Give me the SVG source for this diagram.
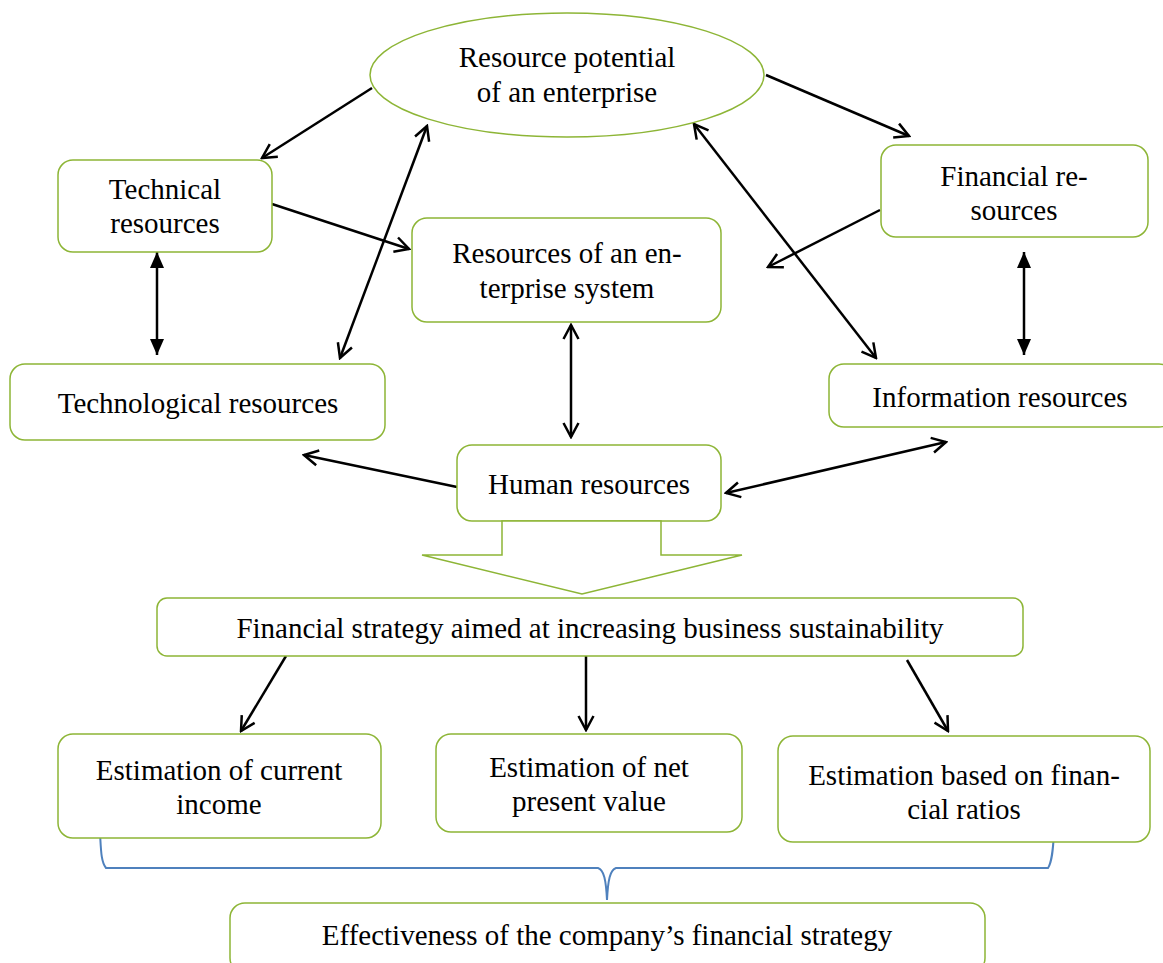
<svg xmlns="http://www.w3.org/2000/svg" width="1163" height="963" viewBox="0 0 1163 963">
<style>
.box{fill:#fff;stroke:#8DB536;stroke-width:1.5}
.t{font-family:"Liberation Serif","Times New Roman",serif;font-size:29px;fill:#000;text-anchor:middle}
.c{stroke:#000;stroke-width:2.5;fill:none}
</style>
<defs>
<marker id="open" viewBox="0 0 18 18" refX="16" refY="9" markerWidth="18" markerHeight="18" markerUnits="userSpaceOnUse" orient="auto-start-reverse">
<path d="M2,1.5 L16,9 L2,16.5" fill="none" stroke="#000" stroke-width="2.5"/>
</marker>
<marker id="fill" viewBox="0 0 16 14" refX="16" refY="7" markerWidth="16" markerHeight="14" markerUnits="userSpaceOnUse" orient="auto-start-reverse">
<path d="M0,0 L16,7 L0,14 Z" fill="#000"/>
</marker>
</defs>
<rect width="1163" height="963" fill="#fff"/>

<g id="connectors">
<line class="c" x1="372" y1="88" x2="262" y2="158" marker-end="url(#open)"/>
<line class="c" x1="340" y1="358" x2="427" y2="126" marker-start="url(#open)" marker-end="url(#open)"/>
<line class="c" x1="272" y1="204" x2="409" y2="249" marker-end="url(#open)"/>
<line class="c" x1="766" y1="75" x2="909" y2="136" marker-end="url(#open)"/>
<line class="c" x1="880" y1="210" x2="768" y2="267" marker-end="url(#open)"/>
<line class="c" x1="694" y1="124" x2="876" y2="358" marker-start="url(#open)" marker-end="url(#open)"/>
<line class="c" x1="157" y1="252" x2="157" y2="355" marker-start="url(#fill)" marker-end="url(#fill)"/>
<line class="c" x1="571" y1="325" x2="571" y2="437" marker-start="url(#open)" marker-end="url(#open)"/>
<line class="c" x1="1024" y1="252" x2="1024" y2="355" marker-start="url(#fill)" marker-end="url(#fill)"/>
<line class="c" x1="457" y1="487" x2="304" y2="455" marker-end="url(#open)"/>
<line class="c" x1="726" y1="493" x2="946" y2="442" marker-start="url(#open)" marker-end="url(#open)"/>
<line class="c" x1="286" y1="656" x2="241" y2="731" marker-end="url(#open)"/>
<line class="c" x1="586" y1="656" x2="586" y2="730" marker-end="url(#open)"/>
<line class="c" x1="907" y1="660" x2="948" y2="731" marker-end="url(#open)"/>
<path d="M100,833 C101,850 101,862 106,868 L598,868 C604,870 606,880 607,900 C608,880 610,870 616,868 L1048,868 C1052,862 1053,850 1054,833" fill="none" stroke="#4F81BD" stroke-width="2"/>
</g>

<g id="resource-potential">
<ellipse class="box" cx="567" cy="75" rx="197" ry="62"/>
<text class="t" x="567" y="67">Resource potential</text>
<text class="t" x="567" y="102">of an enterprise</text>
</g>
<g id="technical">
<rect class="box" x="58" y="160" width="214" height="92" rx="15"/>
<text class="t" x="165" y="199">Technical</text>
<text class="t" x="165" y="233">resources</text>
</g>
<g id="financial">
<rect class="box" x="881" y="145" width="267" height="92" rx="15"/>
<text class="t" x="1014" y="186">Financial re-</text>
<text class="t" x="1014" y="220">sources</text>
</g>
<g id="enterprise-system">
<rect class="box" x="412" y="218" width="309" height="104" rx="15"/>
<text class="t" x="567" y="263">Resources of an en-</text>
<text class="t" x="567" y="298">terprise system</text>
</g>
<g id="technological">
<rect class="box" x="10" y="364" width="375" height="76" rx="15"/>
<text class="t" x="198" y="413">Technological resources</text>
</g>
<g id="information">
<rect class="box" x="829" y="364" width="345" height="63" rx="15"/>
<text class="t" x="1000" y="407">Information resources</text>
</g>
<g id="human">
<rect class="box" x="457" y="445" width="264" height="76" rx="15"/>
<text class="t" x="589" y="494">Human resources</text>
</g>
<g id="block-arrow">
<path d="M502,521 L661,521 L661,555 L742,555 L582,594 L422,555 L502,555 Z" fill="#fff" stroke="#8DB536" stroke-width="1.5"/>
</g>
<g id="strategy">
<rect class="box" x="157" y="598" width="866" height="58" rx="10"/>
<text class="t" x="590" y="638">Financial strategy aimed at increasing business sustainability</text>
</g>
<g id="current-income">
<rect class="box" x="58" y="734" width="323" height="104" rx="15"/>
<text class="t" x="219" y="780">Estimation of current</text>
<text class="t" x="219" y="814">income</text>
</g>
<g id="npv">
<rect class="box" x="436" y="734" width="306" height="98" rx="15"/>
<text class="t" x="589" y="777">Estimation of net</text>
<text class="t" x="589" y="811">present value</text>
</g>
<g id="ratios">
<rect class="box" x="778" y="736" width="372" height="106" rx="15"/>
<text class="t" x="964" y="785">Estimation based on finan-</text>
<text class="t" x="964" y="819">cial ratios</text>
</g>
<g id="effectiveness">
<rect class="box" x="230" y="903" width="755" height="70" rx="15"/>
<text class="t" x="607" y="945">Effectiveness of the company’s financial strategy</text>
</g>
</svg>
